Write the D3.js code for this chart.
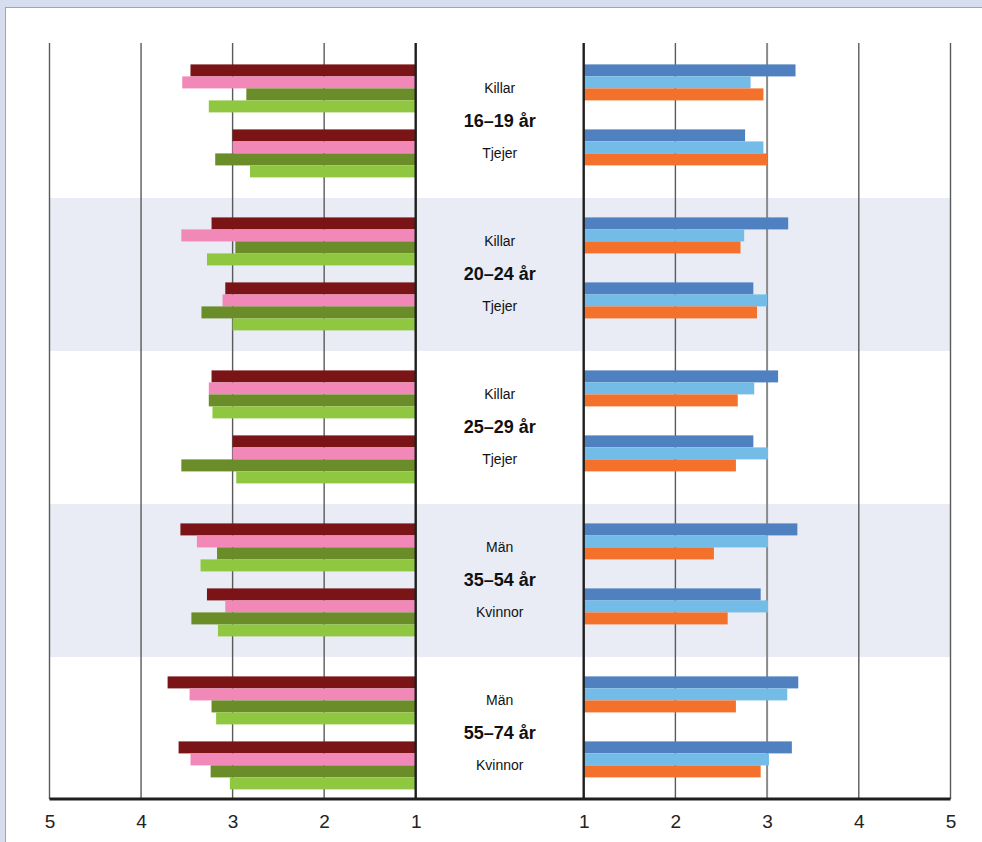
<!DOCTYPE html>
<html>
<head>
<meta charset="utf-8">
<script src="https://cdn.jsdelivr.net/npm/d3@7"></script>
<style>
  html, body { margin: 0; padding: 0; background: #d5ddef; }
  svg { display: block; }
  text { font-family: "Liberation Sans", Arial, sans-serif; }
</style>
</head>
<body>
<svg id="chart" width="982" height="842"></svg>
<script>
// ---- Data ----
const ageGroups = ["16–19 år", "20–24 år", "25–29 år", "35–54 år", "55–74 år"];
const subLabels = [["Killar", "Tjejer"], ["Killar", "Tjejer"], ["Killar", "Tjejer"], ["Män", "Kvinnor"], ["Män", "Kvinnor"]];
const seriesKeys = ["s1", "s2", "s3", "s4"];
// Left panel (4 series), order: group1 sub1, group1 sub2, group2 sub1, ...
const leftDarkRed   = [3.46, 3.00, 3.23, 3.08, 3.23, 3.00, 3.57, 3.28, 3.71, 3.59];
const leftPink      = [3.55, 3.00, 3.56, 3.11, 3.26, 3.00, 3.39, 3.08, 3.47, 3.46];
const leftDarkGreen = [2.85, 3.19, 2.97, 3.34, 3.26, 3.56, 3.17, 3.45, 3.23, 3.24];
const leftLightGreen= [3.26, 2.81, 3.28, 3.00, 3.22, 2.96, 3.35, 3.16, 3.18, 3.03];
// Right panel (3 series)
const rightBlue      = [3.31, 2.76, 3.23, 2.85, 3.12, 2.85, 3.33, 2.93, 3.34, 3.27];
const rightLightBlue = [2.82, 2.96, 2.75, 3.00, 2.86, 3.01, 3.01, 3.01, 3.22, 3.02];
const rightOrange    = [2.96, 3.00, 2.71, 2.89, 2.68, 2.66, 2.42, 2.57, 2.66, 2.93];
const tickValues = [1, 2, 3, 4, 5];

const leftSeries = [
  {key: "s1", values: leftDarkRed, color: "#7b1416"},
  {key: "s2", values: leftPink, color: "#f288b7"},
  {key: "s3", values: leftDarkGreen, color: "#6a8d29"},
  {key: "s4", values: leftLightGreen, color: "#8fc741"}
];
const rightSeries = [
  {key: "s1", values: rightBlue, color: "#4f80bf"},
  {key: "s2", values: rightLightBlue, color: "#73bce7"},
  {key: "s3", values: rightOrange, color: "#f4712b"}
];

// ---- Layout ----
const svg = d3.select("#chart");
const plotTop = 43, plotBottom = 799;

svg.append("rect").attr("x", 5.5).attr("y", 7.5).attr("width", 1000).attr("height", 900)
  .attr("fill", "#ffffff").attr("stroke", "#8fa7d5").attr("stroke-width", 1);

const xL = d3.scaleLinear().domain([1, 5]).range([415.7, 49.5]);
const xR = d3.scaleLinear().domain([1, 5]).range([583.7, 950.5]);

const yGroup = d3.scaleBand().domain(ageGroups).range([44, 809]).paddingInner(0).paddingOuter(0);
const ySub = d3.scaleBand().domain([0, 1]).range([20.4, 20.4 + 130]).paddingInner(0).paddingOuter(0);
// each sub slot is 65px; bars occupy the first 48px
const yBar = d3.scaleBand().domain(seriesKeys).range([0, 48]).padding(0);

svg.append("clipPath").attr("id", "plotclip")
  .append("rect").attr("x", 0).attr("y", plotTop).attr("width", 982).attr("height", plotBottom - plotTop);

// Shading bands (alternate groups)
svg.append("g").attr("clip-path", "url(#plotclip)")
  .selectAll("rect").data(ageGroups.filter((d, i) => i % 2 === 1)).join("rect")
  .attr("x", 49.5).attr("width", 950.5 - 49.5)
  .attr("y", d => yGroup(d) + 1).attr("height", yGroup.bandwidth())
  .attr("fill", "#e9ecf5");

// Gridlines
const gridColor = "#5a5a5a";
svg.append("g").selectAll("line").data(tickValues.filter(v => v > 1)).join("line")
  .attr("x1", d => xL(d)).attr("x2", d => xL(d)).attr("y1", plotTop).attr("y2", plotBottom)
  .attr("stroke", gridColor).attr("stroke-width", 1.4);
svg.append("g").selectAll("line").data(tickValues.filter(v => v > 1)).join("line")
  .attr("x1", d => xR(d)).attr("x2", d => xR(d)).attr("y1", plotTop).attr("y2", plotBottom)
  .attr("stroke", d => d === 3 ? "#8a8a8a" : gridColor).attr("stroke-width", d => d === 3 ? 2 : 1.4);

// Flatten data rows
function rows(series) {
  const out = [];
  series.forEach(s => {
    s.values.forEach((v, i) => {
      out.push({key: s.key, value: v, group: ageGroups[Math.floor(i / 2)], sub: i % 2, color: s.color});
    });
  });
  return out;
}
const yOf = d => yGroup(d.group) + ySub(d.sub) + yBar(d.key);

svg.append("g").selectAll("rect").data(rows(leftSeries)).join("rect")
  .attr("x", d => xL(d.value)).attr("width", d => xL(1) - xL(d.value))
  .attr("y", yOf).attr("height", yBar.bandwidth())
  .attr("fill", d => d.color);

svg.append("g").selectAll("rect").data(rows(rightSeries)).join("rect")
  .attr("x", xR(1)).attr("width", d => xR(d.value) - xR(1))
  .attr("y", yOf).attr("height", yBar.bandwidth())
  .attr("fill", d => d.color);

// Value-1 axis lines
[xL(1), xR(1)].forEach(x => {
  svg.append("line").attr("x1", x).attr("x2", x).attr("y1", plotTop).attr("y2", plotBottom)
    .attr("stroke", "#1e1e1e").attr("stroke-width", 2.4);
});

// Bottom axes
const axisL = d3.axisBottom(xL).tickValues(tickValues).tickSize(0).tickPadding(16).tickFormat(d3.format("d"));
const axisR = d3.axisBottom(xR).tickValues(tickValues).tickSize(0).tickPadding(16).tickFormat(d3.format("d"));
[axisL, axisR].forEach(ax => {
  const g = svg.append("g").attr("transform", `translate(0,${plotBottom})`).call(ax);
  g.select(".domain").remove();
  g.selectAll("text").attr("font-size", 19).attr("fill", "#222")
    .attr("font-family", "'Liberation Sans Narrow', 'Liberation Sans', Arial, sans-serif");
});
svg.append("line").attr("x1", xL(5)).attr("x2", xR(5)).attr("y1", plotBottom).attr("y2", plotBottom)
  .attr("stroke", "#1e1e1e").attr("stroke-width", 3);

// Center labels
const cx = (xL(1) + xR(1)) / 2;
const labels = svg.append("g");
ageGroups.forEach((g, gi) => {
  const y0 = yGroup(g) + ySub(0) + 24;
  const y1 = yGroup(g) + ySub(1) + 24;
  labels.append("text").attr("x", cx).attr("y", y0).attr("dy", "0.35em")
    .attr("text-anchor", "middle").attr("font-size", 14).attr("fill", "#111").text(subLabels[gi][0]);
  labels.append("text").attr("x", cx).attr("y", (y0 + y1) / 2).attr("dy", "0.35em")
    .attr("text-anchor", "middle").attr("font-size", 18).attr("font-weight", "bold").attr("fill", "#111").text(g);
  labels.append("text").attr("x", cx).attr("y", y1).attr("dy", "0.35em")
    .attr("text-anchor", "middle").attr("font-size", 14).attr("fill", "#111").text(subLabels[gi][1]);
});
</script>
</body>
</html>
